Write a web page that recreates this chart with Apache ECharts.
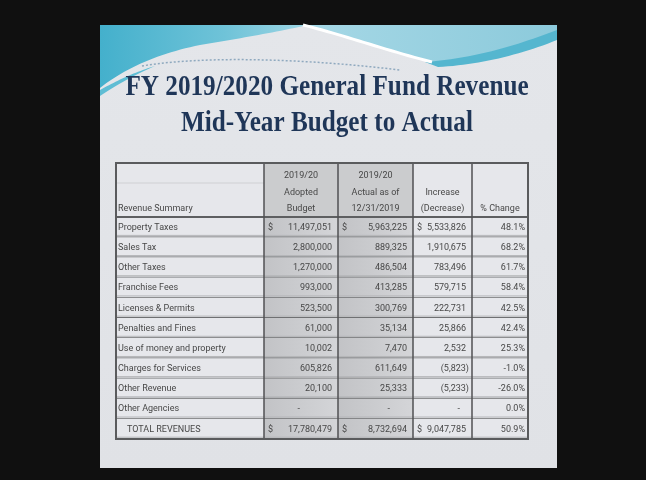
<!DOCTYPE html>
<html>
<head>
<meta charset="utf-8">
<script src="https://cdn.jsdelivr.net/npm/echarts/dist/echarts.min.js"></script>
<style>
  html, body { margin: 0; padding: 0; background: #101010; }
  #main { width: 646px; height: 480px; }
</style>
</head>
<body>
<div id="main"></div>
<script>
// table values
var rowLabels = ['Property Taxes', 'Sales Tax', 'Other Taxes', 'Franchise Fees', 'Licenses & Permits',
  'Penalties and Fines', 'Use of money and property', 'Charges for Services', 'Other Revenue',
  'Other Agencies', 'TOTAL REVENUES'];
var adoptedBudget = [11497051, 2800000, 1270000, 993000, 523500, 61000, 10002, 605826, 20100, 0, 17780479];
var actualToDate = [5963225, 889325, 486504, 413285, 300769, 35134, 7470, 611649, 25333, 0, 8732694];
var increaseDecrease = [5533826, 1910675, 783496, 579715, 222731, 25866, 2532, -5823, -5233, 0, 9047785];
var pctChange = [48.1, 68.2, 61.7, 58.4, 42.5, 42.4, 25.3, -1.0, -26.0, 0.0, 50.9];
var dollarRows = [0, 10];

var titleLines = ['FY 2019/2020 General Fund Revenue', 'Mid-Year Budget to Actual'];
var headerText = [
  ['Revenue Summary'],
  ['2019/20', 'Adopted', 'Budget'],
  ['2019/20', 'Actual as of', '12/31/2019'],
  ['Increase', '(Decrease)'],
  ['% Change']
];

// layout
var colEdges = [116, 264, 338, 413, 472, 528];
var headTop = 163, headBottom = 217, tableBottom = 439;
var dashPad = [0, 38, 23, 12, 0];
var textColor = '#474747';
var bodyFont = '9px Roboto, "Noto Sans", sans-serif';
var greyFill = new echarts.graphic.LinearGradient(0, 0, 1, 0, [
  { offset: 0, color: '#c2c3c6' }, { offset: 1, color: '#d4d5d8' }]);
var lightFill = '#e6e7eb';

function fmtNum(v) {
  if (v === 0) return '-';
  var s = Math.abs(v).toLocaleString('en-US');
  return v < 0 ? '(' + s + ')' : s;
}

// sample a cubic bezier into points (for the wave shapes)
function bez(a, b, c, d) {
  var pts = [];
  for (var i = 0; i <= 24; i++) {
    var t = i / 24, u = 1 - t;
    pts.push([
      u * u * u * a[0] + 3 * u * u * t * b[0] + 3 * u * t * t * c[0] + t * t * t * d[0],
      u * u * u * a[1] + 3 * u * u * t * b[1] + 3 * u * t * t * c[1] + t * t * t * d[1]
    ]);
  }
  return pts;
}

var cells = [];
rowLabels.forEach(function (name, r) {
  for (var c = 0; c < 5; c++) cells.push([c, r]);
});

function txt(text, x, y, align, font) {
  return {
    type: 'text',
    style: {
      text: text, x: x, y: y, fill: textColor, font: font || bodyFont,
      textAlign: align, textVerticalAlign: 'middle'
    }
  };
}

function renderCell(params, api) {
  var c = api.value(0), r = api.value(1);
  var p0 = api.coord([colEdges[c], r]);
  var p1 = api.coord([colEdges[c + 1], r]);
  var h = api.size([0, 1])[1];
  var x0 = p0[0], x1 = p1[0], yc = p0[1] + 0.5, y0 = p0[1] - h / 2;
  var kids = [{
    type: 'rect',
    shape: { x: x0, y: y0, width: x1 - x0, height: h },
    style: { fill: (c === 1 || c === 2) ? greyFill : lightFill }
  }];
  var hasDollar = dollarRows.indexOf(r) >= 0;
  if (c === 0) {
    kids.push(txt(rowLabels[r], x0 + (r === 10 ? 11 : 2), yc, 'left'));
  } else if (c === 4) {
    kids.push(txt(pctChange[r].toFixed(1) + '%', x1 - 3, yc, 'right'));
  } else {
    var v = [adoptedBudget, actualToDate, increaseDecrease][c - 1][r];
    if (hasDollar) kids.push(txt('$', x0 + 4, yc, 'left'));
    if (v === 0) kids.push(txt('-', x1 - dashPad[c], yc, 'right'));
    else kids.push(txt(fmtNum(v), x1 - (v < 0 ? 3 : 6), yc, 'right'));
  }
  // row separator
  kids.push({
    type: 'line',
    shape: { x1: x0, y1: y0 + h, x2: x1, y2: y0 + h },
    style: { stroke: '#6f7072', lineWidth: 1.6 }
  });
  kids.push({
    type: 'line',
    shape: { x1: x0, y1: y0 + h - 1.8, x2: x1, y2: y0 + h - 1.8 },
    style: { stroke: '#b4b5b8', lineWidth: 1 }
  });
  return { type: 'group', children: kids };
}

var rightPale = [[300, 25], [557, 25], [557, 34]]
  .concat(bez([557, 34], [520, 48], [475, 58], [432, 62]))
  .concat(bez([432, 62], [390, 52], [345, 36], [300, 25]));
var rightBand = bez([425, 62], [478, 58], [520, 44], [557, 30])
  .concat(bez([557, 40], [520, 55], [478, 65], [438, 67]));
var leftWave = [[100, 25], [308, 25]]
  .concat(bez([308, 25], [272, 33], [236, 39], [200, 45]))
  .concat(bez([200, 45], [160, 53], [125, 68], [100, 88]));
var leftSliver = bez([100, 90], [118, 80], [135, 72], [155, 66])
  .concat(bez([155, 66], [132, 76], [115, 86], [100, 96]));

var titleStyle = {
  font: 'bold 30px "Liberation Serif", "DejaVu Serif", serif', fill: '#1f3658',
  textAlign: 'center', textVerticalAlign: 'middle',
  shadowColor: 'rgba(0,0,0,0.25)', shadowOffsetX: 1, shadowOffsetY: 1, shadowBlur: 1
};

// slide decoration, title, header
var graphics = [
  { type: 'rect', z: 0, shape: { x: 100, y: 25, width: 457, height: 443 },
    style: { fill: new echarts.graphic.LinearGradient(0, 0, 0, 1, [
      { offset: 0, color: '#e4e6ea' }, { offset: 1, color: '#e0e2e6' }]) } },
  { type: 'polygon', z: 1, shape: { points: rightPale },
    style: { fill: new echarts.graphic.LinearGradient(0, 0, 1, 0, [
      { offset: 0, color: '#a6d8e6' }, { offset: 1, color: '#8ccadb' }]) } },
  { type: 'polygon', z: 1, shape: { points: rightBand }, style: { fill: '#55b6cf' } },
  { type: 'polygon', z: 1, shape: { points: leftWave },
    style: { fill: new echarts.graphic.LinearGradient(0, 0, 1, 0, [
      { offset: 0, color: '#44b0cc' }, { offset: 0.6, color: '#6fc3d8' }, { offset: 1, color: '#9dd5e4' }]) } },
  { type: 'polygon', z: 1, shape: { points: leftSliver }, style: { fill: '#5fbdd4' } },
  { type: 'polyline', z: 2, shape: { points: bez([303, 25], [340, 34], [385, 50], [432, 62]) },
    style: { stroke: '#ffffff', lineWidth: 3 } },
  { type: 'polyline', z: 2, shape: { points: bez([142, 66], [200, 56], [300, 58], [400, 70]) },
    style: { stroke: '#8fa9bf', lineWidth: 1.5, lineDash: [2, 2] } },
  { type: 'text', z: 20, x: 327, y: 87, scaleX: 0.84,
    style: echarts.util.extend({ text: titleLines[0] }, titleStyle) },
  { type: 'text', z: 20, x: 327, y: 123, scaleX: 0.84,
    style: echarts.util.extend({ text: titleLines[1] }, titleStyle) }
];

// header cells
for (var c = 0; c < 5; c++) {
  graphics.push({ type: 'rect', z: 3,
    shape: { x: colEdges[c], y: headTop, width: colEdges[c + 1] - colEdges[c], height: headBottom - headTop },
    style: { fill: (c === 1 || c === 2) ? '#cbccce' : lightFill } });
  var lines = headerText[c];
  for (var i = 0; i < lines.length; i++) {
    var y = headBottom - 8 - (lines.length - 1 - i) * 16.5;
    var x = c === 0 ? colEdges[0] + 2 : (colEdges[c] + colEdges[c + 1]) / 2;
    var el = txt(lines[i], x, y, c === 0 ? 'left' : 'center');
    el.z = 4;
    graphics.push(el);
  }
}
graphics.push({ type: 'line', z: 4, shape: { x1: colEdges[0], y1: 183, x2: colEdges[1], y2: 183 },
  style: { stroke: '#cfd0d3', lineWidth: 1 } });
graphics.push({ type: 'line', z: 30, shape: { x1: colEdges[0], y1: headBottom, x2: colEdges[5], y2: headBottom },
  style: { stroke: '#5e5f61', lineWidth: 2 } });
for (var k = 1; k < 5; k++) {
  graphics.push({ type: 'line', z: 30, shape: { x1: colEdges[k], y1: headTop, x2: colEdges[k], y2: tableBottom },
    style: { stroke: '#505153', lineWidth: 1.5 } });
}
graphics.push({ type: 'rect', z: 30,
  shape: { x: colEdges[0], y: headTop, width: colEdges[5] - colEdges[0], height: tableBottom - headTop },
  style: { fill: 'none', stroke: '#5a5b5d', lineWidth: 2 } });

var chart = echarts.init(document.getElementById('main'));
chart.setOption({
  backgroundColor: '#101010',
  animation: false,
  grid: { left: 0, right: 0, top: headBottom, bottom: 480 - tableBottom },
  xAxis: { type: 'value', min: 0, max: 646, show: false },
  yAxis: { type: 'category', data: rowLabels, inverse: true, show: false },
  graphic: { elements: graphics },
  series: [{
    type: 'custom',
    coordinateSystem: 'cartesian2d',
    renderItem: renderCell,
    data: cells,
    z: 10,
    silent: true
  }]
});
</script>
</body>
</html>
